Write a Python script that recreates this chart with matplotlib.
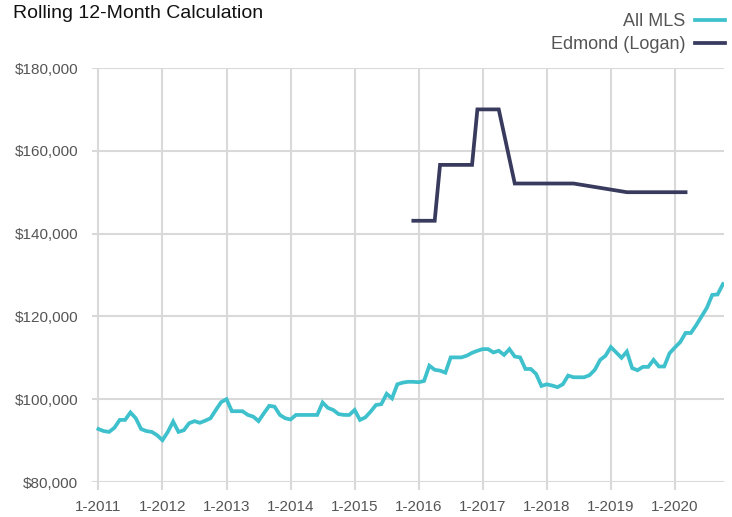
import matplotlib
matplotlib.use("Agg")
import matplotlib.pyplot as plt

plt.rcParams['font.family'] = ['Liberation Sans', 'DejaVu Sans']

# ---- data ----
title = "Rolling 12-Month Calculation"
series_names = ["All MLS", "Edmond (Logan)"]

# All MLS: monthly values, Jan 2011 (month 0) .. Oct 2020 (month 117)
all_mls_months = list(range(118))
all_mls_values = [
    92800, 92300, 92100, 93100, 95000, 95000, 96800, 95400, 92800, 92300, 92100, 91300,
    90100, 92100, 94600, 92100, 92500, 94200, 94700, 94300, 94800, 95400, 97400, 99300,
    100000, 97100, 97100, 97100, 96200, 95800, 94700, 96600, 98400, 98200, 96200, 95400,
    95100, 96200, 96200, 96200, 96200, 96200, 99200, 97900, 97400, 96400, 96200, 96200,
    97400, 95000, 95600, 97000, 98600, 98800, 101300, 100200, 103600, 104000, 104200, 104200,
    104100, 104400, 108100, 107100, 106900, 106400, 110100, 110100, 110100, 110500, 111200, 111700,
    112100, 112100, 111300, 111700, 110700, 112100, 110300, 110100, 107300, 107300, 106100, 103200,
    103600, 103300, 102900, 103600, 105700, 105300, 105300, 105300, 105800, 107100, 109500, 110500,
    112600, 111300, 110000, 111500, 107500, 107000, 107800, 107800, 109500, 107900, 107900, 111100,
    112500, 113800, 116000, 116000, 117900, 120000, 122100, 125200, 125300, 127800,
]

# Edmond (Logan): values at the months where the line changes
edmond_months = [59, 63, 64, 70, 71, 75, 78, 89, 99, 110]
edmond_values = [143100, 143100, 156600, 156600, 170000, 170000, 152100, 152100, 150000, 150000]

x_ticks = [0, 12, 24, 36, 48, 60, 72, 84, 96, 108]
x_tick_labels = ["1-2011", "1-2012", "1-2013", "1-2014", "1-2015",
                 "1-2016", "1-2017", "1-2018", "1-2019", "1-2020"]
y_ticks = [80000, 100000, 120000, 140000, 160000, 180000]
y_tick_labels = ["$80,000", "$100,000", "$120,000", "$140,000", "$160,000", "$180,000"]

# ---- style ----
teal = "#3EC1CC"
navy = "#383B5D"
grid_col = "#D9D9D9"
text_col = "#555555"

fig = plt.figure(figsize=(7.32, 5.17), dpi=100)
ax = fig.add_axes([92 / 732, 1 - 482 / 517, 632 / 732, 414 / 517])

ax.plot(all_mls_months, all_mls_values, color=teal, lw=2.7, label=series_names[0],
        solid_joinstyle='miter', zorder=3)
ax.plot(edmond_months, edmond_values, color=navy, lw=2.7, label=series_names[1],
        solid_joinstyle='miter', zorder=3)

ax.set_xlim(-1.2, 117.2)
ax.set_ylim(80000, 180000)
ax.set_xticks(x_ticks)
ax.set_xticklabels(x_tick_labels)
ax.set_yticks(y_ticks)
ax.set_yticklabels(y_tick_labels)

ax.grid(True, color=grid_col, lw=1.5)
ax.set_axisbelow(True)
for s in ax.spines.values():
    s.set_visible(False)

ax.tick_params(axis='x', length=6, width=1.5, color=grid_col, pad=7,
               labelsize=11, labelcolor=text_col)
ax.tick_params(axis='y', length=0, pad=10, labelsize=11, labelcolor=text_col)

fig.text(13 / 732, 1 - 5 / 517, title, ha='left', va='top', fontsize=14, color="#111111")

leg = ax.legend(loc='upper right', bbox_to_anchor=(725 / 732, 1 - 13 / 517),
                bbox_transform=fig.transFigure, frameon=False, markerfirst=False,
                fontsize=13, handlelength=1.65, handletextpad=0.55, labelspacing=0.35,
                borderpad=0, borderaxespad=0)
for t in leg.get_texts():
    t.set_color(text_col)

fig.savefig("out.png", dpi=100)
